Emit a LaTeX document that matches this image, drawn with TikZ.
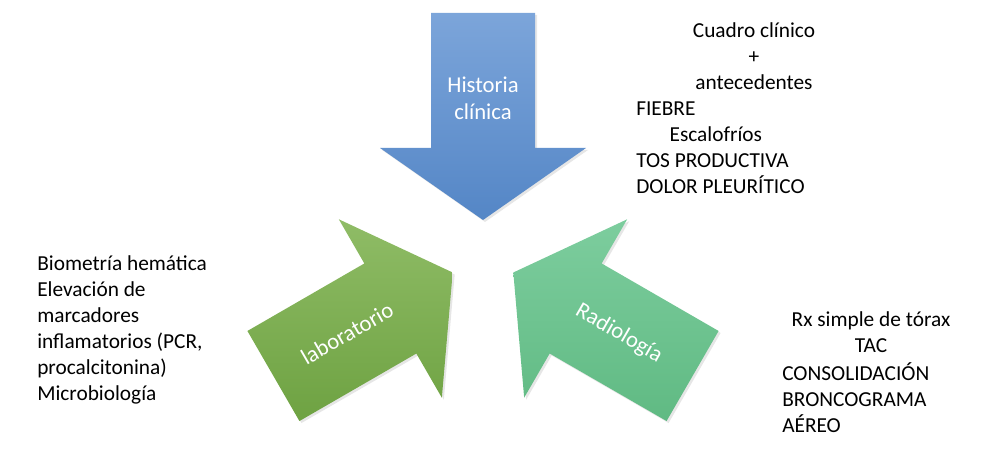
\documentclass[tikz,border=0pt]{standalone}
\usepackage{fontspec}
\setmainfont{Carlito}
\usetikzlibrary{calc,shadows}

\definecolor{histtop}{RGB}{124,165,218}
\definecolor{histbot}{RGB}{84,134,198}
\definecolor{labtop}{RGB}{143,188,102}
\definecolor{labbot}{RGB}{110,162,66}
\definecolor{radtop}{RGB}{125,205,158}
\definecolor{radbot}{RGB}{96,186,131}

\begin{document}
\begin{tikzpicture}[x=0.75pt,y=0.75pt,
    txt/.style={font=\fontsize{16}{19.5}\selectfont, inner sep=0pt},
    lbl/.style={font=\fontsize{17}{20.5}\selectfont, text=white, align=center, inner sep=0pt}]
    \useasboundingbox (0,0) rectangle (992,454);
    \coordinate (ctr) at (483,199);

    % the three block arrows
    \foreach \ang/\name/\ct/\cb/\rot/\txt in {-90/hist/histtop/histbot/0/{Historia\\clínica},
        30/lab/labtop/labbot/30/{laboratorio},
        150/rad/radtop/radbot/-30/{Radiología}}{
    \coordinate (\name tip) at ($(ctr)+(\ang:-35)$);
    \path[top color=\ct, bottom color=\cb,
        drop shadow={opacity=0.2,shadow xshift=1.5pt,shadow yshift=-1.5pt}]
        (\name tip) -- ($(\name tip)+(\ang:-72)+(\ang+90:103)$)
        -- ($(\name tip)+(\ang:-72)+(\ang+90:52)$)
        -- ($(\name tip)+(\ang:-207)+(\ang+90:52)$)
        -- ($(\name tip)+(\ang:-207)+(\ang+90:-52)$)
        -- ($(\name tip)+(\ang:-72)+(\ang+90:-52)$)
        -- ($(\name tip)+(\ang:-72)+(\ang+90:-103)$) -- cycle;
    \node[lbl, rotate=\rot] (\name) at ($(\name tip)+(\ang:-122)$) {\txt};
    }

    % texts
    \node[txt, align=center] (cuadro) at (754,398) {Cuadro clínico\\+\\antecedentes};
    \node[txt, align=left, anchor=west] (sintomas) at (636,306.5)
        {FIEBRE\\\hspace{25pt}Escalofríos\\TOS PRODUCTIVA\\DOLOR PLEURÍTICO};
    \node[txt, align=left, anchor=west] (pruebas) at (37,124)
        {Biometría hemática\\Elevación de\\marcadores\\inflamatorios (PCR,\\procalcitonina)\\Microbiología};
    \node[txt, align=center] (rx) at (871,122) {Rx simple de tórax\\TAC};
    \node[txt, align=left, anchor=west] (hallazgos) at (782,56.5)
        {CONSOLIDACIÓN\\BRONCOGRAMA\\AÉREO};

\end{tikzpicture}
\end{document}
